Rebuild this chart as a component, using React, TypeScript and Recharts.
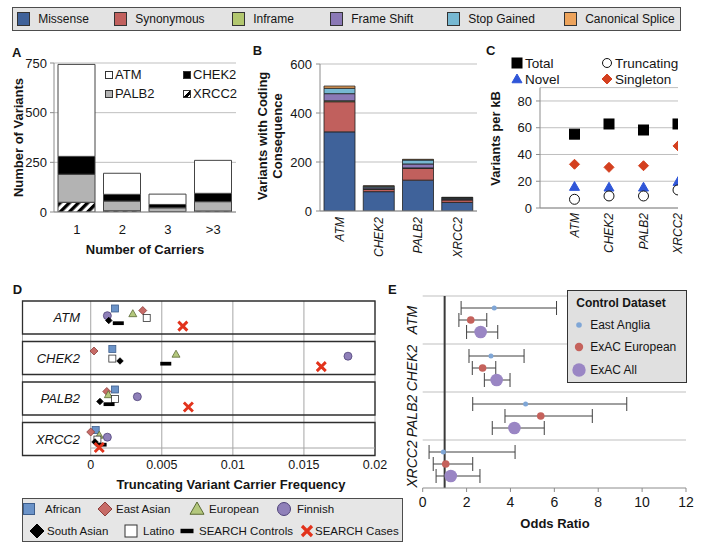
import React from 'react';
import {
  BarChart, Bar, XAxis, YAxis, CartesianGrid, Legend,
  ScatterChart, Scatter, ReferenceArea, ReferenceLine, ErrorBar,
} from 'recharts';

const FONT = '"Liberation Sans", Arial, Helvetica, sans-serif';
const GRID = '#bfbfbf';
const AXIS = '#8c8c8c';
const INK = '#151515';

// ---------- Panel A data ----------
const carriers = ['1', '2', '3', '>3'];
const carriersATM = [463, 106, 52, 166];
const carriersCHEK2 = [90, 34, 17, 42];
const carriersPALB2 = [141, 49, 19, 47];
const carriersXRCC2 = [49, 6, 2, 5];
const countTicks = [0, 250, 500, 750];

// ---------- Panel B data ----------
const genes = ['ATM', 'CHEK2', 'PALB2', 'XRCC2'];
const missense = [323, 79, 126, 35];
const synonymous = [123, 9, 48, 10];
const inframe = [4, 2, 2, 2];
const frameShift = [29, 5, 16, 4];
const stopGained = [22, 6, 16, 4];
const canonicalSplice = [9, 2, 3, 1];
const codingTicks = [0, 200, 400, 600];

// ---------- Panel C data ----------
const totalPerKb = [55.2, 62.8, 58.3, 62.8];
const truncatingPerKb = [6.5, 9.0, 9.0, 13.5];
const novelPerKb = [16.0, 15.5, 15.5, 19.7];
const singletonPerKb = [32.7, 30.4, 31.6, 46.4];
const perKbTicks = [0, 20, 40, 60, 80];

// ---------- Panel D data ----------
const freqAfrican = [0.00171, 0.00152, 0.00171, 0.00035];
const freqEastAsian = [0.00366, 0.00023, 0.00113, 0.0];
const freqEuropean = [0.00296, 0.006, 0.00124, 0.0006];
const freqFinnish = [0.00117, 0.0181, 0.00328, 0.00117];
const freqLatino = [0.00394, 0.00152, 0.00171, 0.00047];
const freqSouthAsian = [0.00127, 0.00206, 0.00065, 0.0003];
const freqSearchControls = [0.00194, 0.00528, 0.00129, 0.00073];
const freqSearchCases = [0.00648, 0.01622, 0.00687, 0.0006];
const freqTicks = [0, 0.005, 0.01, 0.015, 0.02];

// ---------- Panel E data ----------
const orEastAnglia = [3.26, 3.11, 4.69, 0.94];
const loEastAnglia = [1.75, 2.11, 2.28, 0.29];
const hiEastAnglia = [6.1, 4.62, 9.3, 4.21];
const orExacEuropean = [2.19, 2.73, 5.38, 1.05];
const loExacEuropean = [1.65, 2.26, 3.75, 0.48];
const hiExacEuropean = [2.92, 3.33, 7.73, 2.28];
const orExacAll = [2.64, 3.37, 4.18, 1.28];
const loExacAll = [2.0, 2.81, 3.17, 0.61];
const hiExacAll = [3.42, 3.98, 5.54, 2.61];
const orTicks = [0, 2, 4, 6, 8, 10, 12];

// ---------- helpers ----------
const tickStyle = (size: number) => ({ fontSize: size, fill: INK, fontFamily: FONT });
const titleStyle = (size: number) => ({ fontFamily: FONT, fontSize: size, fontWeight: 700, fill: INK });

function hTitle(text: string, x: number, y: number, size = 13) {
  return () => (
    <text x={x} y={y} textAnchor="middle" dy="0.35em" style={titleStyle(size)}>{text}</text>
  );
}
function vTitle(lines: string[], x: number, y: number, size = 13, lh = 15) {
  return () => (
    <text transform={`translate(${x},${y}) rotate(-90)`} textAnchor="middle" style={titleStyle(size)}>
      {lines.map((l, i) => (
        <tspan key={i} x={0} y={(i - (lines.length - 1) / 2) * lh} dy="0.35em">{l}</tspan>
      ))}
    </text>
  );
}

function marker(kind: string, cx: number, cy: number, s: number, fill: string, stroke: string, sw = 0.8) {
  const h = s / 2;
  switch (kind) {
    case 'square':
      return <rect x={cx - h} y={cy - h} width={s} height={s} fill={fill} stroke={stroke} strokeWidth={sw} />;
    case 'diamond':
      return <polygon points={`${cx},${cy - h} ${cx + h},${cy} ${cx},${cy + h} ${cx - h},${cy}`} fill={fill} stroke={stroke} strokeWidth={sw} />;
    case 'triangle':
      return <polygon points={`${cx},${cy - h} ${cx + h},${cy + h * 0.75} ${cx - h},${cy + h * 0.75}`} fill={fill} stroke={stroke} strokeWidth={sw} />;
    case 'circle':
      return <circle cx={cx} cy={cy} r={h} fill={fill} stroke={stroke} strokeWidth={sw} />;
    case 'bar':
      return <rect x={cx - h} y={cy - s * 0.17} width={s} height={s * 0.34} fill={fill} />;
    case 'x':
      return (
        <path d={`M${cx - h},${cy - h}L${cx + h},${cy + h}M${cx + h},${cy - h}L${cx - h},${cy + h}`} stroke={stroke} strokeWidth={s * 0.32} fill="none" />
      );
    default:
      return <circle cx={cx} cy={cy} r={h} fill={fill} />;
  }
}

function IconSvg({ kind, s, fill, stroke, box = 16 }: any) {
  return (
    <svg width={box} height={box} style={{ display: 'block', overflow: 'visible' }}>
      {marker(kind, box / 2, box / 2, s, fill, stroke, 1)}
    </svg>
  );
}

// ---------- Panel A ----------
const dataA = carriers.map((c, i) => ({
  cat: c, XRCC2: carriersXRCC2[i], PALB2: carriersPALB2[i], CHEK2: carriersCHEK2[i], ATM: carriersATM[i],
}));
const A_SERIES = [
  { key: 'XRCC2', fill: 'url(#hatchA)' },
  { key: 'PALB2', fill: '#b3b3b3' },
  { key: 'CHEK2', fill: '#000000' },
  { key: 'ATM', fill: '#ffffff' },
];
const A_LEGEND_ORDER = ['ATM', 'CHEK2', 'PALB2', 'XRCC2'];
const A_SWATCH: Record<string, string> = {
  ATM: '#ffffff', CHEK2: '#000000', PALB2: '#b3b3b3',
  XRCC2: 'linear-gradient(135deg, #ffffff 45%, #000000 45%, #000000 75%, #ffffff 75%)',
};

function LegendA({ payload }: any) {
  const items = [...(payload || [])].sort(
    (a: any, b: any) => A_LEGEND_ORDER.indexOf(a.value) - A_LEGEND_ORDER.indexOf(b.value));
  return (
    <div style={{ position: 'relative', width: 133, height: 40, fontFamily: FONT, fontSize: 13, color: INK }}>
      {items.map((it: any, i: number) => (
        <div key={it.value} style={{ position: 'absolute', left: (i % 2) * 78, top: Math.floor(i / 2) * 19, height: 19, display: 'flex', alignItems: 'center', whiteSpace: 'nowrap' }}>
          <span style={{ display: 'inline-block', width: 8, height: 8, boxSizing: 'border-box', border: '1px solid #333', background: A_SWATCH[it.value] }} />
          <span style={{ marginLeft: 2 }}>{it.value}</span>
        </div>
      ))}
    </div>
  );
}

function ChartA() {
  return (
    <BarChart width={245} height={220} data={dataA} margin={{ top: 23, right: 9, left: 0, bottom: 0 }} barSize={37}>
      <defs>
        <pattern id="hatchA" width="6.5" height="6.5" patternUnits="userSpaceOnUse" patternTransform="rotate(45)">
          <rect width="6.5" height="6.5" fill="#ffffff" />
          <rect width="3.3" height="6.5" fill="#000000" />
        </pattern>
      </defs>
      <CartesianGrid vertical={false} stroke={GRID} />
      <XAxis xAxisId="tk" type="number" domain={[0, 4]} ticks={[0, 1, 2, 3, 4]} height={0} tick={false}
        axisLine={false} tickLine={{ stroke: AXIS }} tickSize={5} allowDataOverflow />
      <XAxis dataKey="cat" height={48} axisLine={{ stroke: AXIS }} tickLine={false} tickSize={0} tickMargin={13}
        tick={tickStyle(13)} interval={0} label={hTitle('Number of Carriers', 145, 209.5)} />
      <YAxis domain={[0, 750]} ticks={countTicks} width={54} axisLine={{ stroke: AXIS }} tickLine={{ stroke: AXIS }}
        tickSize={4} tickMargin={3} tick={tickStyle(13)} allowDataOverflow
        label={vTitle(['Number of Variants'], 18, 97.5)} />
      {A_SERIES.map((s) => (
        <Bar key={s.key} dataKey={s.key} name={s.key} stackId="a" fill={s.fill} stroke="#444" strokeWidth={1} isAnimationActive={false} />
      ))}
      <Legend content={LegendA} layout="horizontal" align="center" verticalAlign="middle"
        wrapperStyle={{ left: 105, top: 25, width: 133, height: 40 }} />
    </BarChart>
  );
}

// ---------- Panel B ----------
const B_SERIES = [
  { key: 'missense', name: 'Missense', values: missense, fill: '#3f629a' },
  { key: 'synonymous', name: 'Synonymous', values: synonymous, fill: '#c1605d' },
  { key: 'inframe', name: 'Inframe', values: inframe, fill: '#b2c76f' },
  { key: 'frameShift', name: 'Frame Shift', values: frameShift, fill: '#8b79b6' },
  { key: 'stopGained', name: 'Stop Gained', values: stopGained, fill: '#76b8d2' },
  { key: 'canonicalSplice', name: 'Canonical Splice', values: canonicalSplice, fill: '#eda35b' },
];
const dataB = genes.map((g, i) => {
  const row: any = { gene: g };
  B_SERIES.forEach((s) => { row[s.key] = s.values[i]; });
  return row;
});
const TOP_LEGEND_X = [4, 101, 219, 317, 434, 551];

function TopLegend({ payload }: any) {
  const names = B_SERIES.map((s) => s.name);
  const items = [...(payload || [])].sort((a: any, b: any) => names.indexOf(a.value) - names.indexOf(b.value));
  return (
    <div style={{ position: 'relative', width: 669, height: 24, boxSizing: 'border-box', border: '1px solid #4d4d4d', background: '#e3e3e3', fontFamily: FONT, fontSize: 12, color: INK }}>
      {items.map((it: any, i: number) => (
        <div key={it.value} style={{ position: 'absolute', left: TOP_LEGEND_X[i], top: 0, height: 22, display: 'flex', alignItems: 'center', whiteSpace: 'nowrap' }}>
          <span style={{ display: 'inline-block', width: 13, height: 14, boxSizing: 'border-box', border: '1px solid #333', background: it.color }} />
          <span style={{ marginLeft: 8.5 }}>{it.value}</span>
        </div>
      ))}
    </div>
  );
}

function GeneTickB(props: any) {
  const { x, y, payload } = props;
  return (
    <text transform={`translate(${x},${y}) rotate(-90)`} textAnchor="end" dy="0.35em"
      style={{ fontFamily: FONT, fontSize: 12, fontStyle: 'italic', fill: INK }}>{payload.value}</text>
  );
}

function ChartB() {
  return (
    <BarChart width={250} height={272} data={dataB} margin={{ top: 64, right: 3, left: 0, bottom: 0 }} barSize={31}>
      <CartesianGrid vertical={false} stroke={GRID} />
      <XAxis xAxisId="tk" type="number" domain={[0, 4]} ticks={[0, 1, 2, 3, 4]} height={0} tick={false}
        axisLine={false} tickLine={{ stroke: AXIS }} tickSize={5} allowDataOverflow />
      <XAxis dataKey="gene" height={61} axisLine={{ stroke: AXIS }} tickLine={false} tickSize={0} tickMargin={6}
        tick={<GeneTickB />} interval={0} />
      <YAxis domain={[0, 600]} ticks={codingTicks} width={90} axisLine={{ stroke: AXIS }} tickLine={{ stroke: AXIS }}
        tickSize={4} tickMargin={4} tick={tickStyle(13)} allowDataOverflow
        label={vTitle(['Variants with Coding', 'Consequence'], 40, 136)} />
      {B_SERIES.map((s) => (
        <Bar key={s.key} dataKey={s.key} name={s.name} stackId="b" fill={s.fill} stroke="#1f1f1f" strokeWidth={0.8} isAnimationActive={false} />
      ))}
      <Legend content={TopLegend} layout="horizontal" align="center" verticalAlign="middle"
        wrapperStyle={{ left: -218.3, top: 6.7, width: 669, height: 24 }} />
    </BarChart>
  );
}

// ---------- Panel C ----------
const C_SERIES = [
  { name: 'Total', values: totalPerKb, kind: 'square', s: 10, fill: '#000000', stroke: '#000000' },
  { name: 'Singleton', values: singletonPerKb, kind: 'diamond', s: 10, fill: '#d4401f', stroke: '#d4401f' },
  { name: 'Novel', values: novelPerKb, kind: 'triangle', s: 10, fill: '#2f56d8', stroke: '#2f56d8' },
  { name: 'Truncating', values: truncatingPerKb, kind: 'circle', s: 10, fill: '#ffffff', stroke: '#111111' },
];
const C_LEGEND_POS: Record<string, [number, number]> = {
  Total: [57, 23], Truncating: [147, 23], Novel: [57, 39], Singleton: [147, 39],
};

function LegendC({ payload }: any) {
  return (
    <div style={{ position: 'relative', width: 230, height: 50, fontFamily: FONT, fontSize: 13.5, color: INK }}>
      {(payload || []).map((it: any) => {
        const st = C_SERIES.find((s) => s.name === it.value);
        const pos = C_LEGEND_POS[it.value];
        if (!st || !pos) return null;
        return (
          <div key={it.value} style={{ position: 'absolute', left: pos[0] - 8, top: pos[1] - 9, height: 18, display: 'flex', alignItems: 'center', whiteSpace: 'nowrap' }}>
            <IconSvg kind={st.kind} s={st.kind === 'circle' ? 9 : 10} fill={st.fill} stroke={st.stroke} />
            <span style={{ marginLeft: 0 }}>{it.value}</span>
          </div>
        );
      })}
    </div>
  );
}

function GeneTickC(props: any) {
  const { x, y, payload } = props;
  return (
    <text transform={`translate(${x},${y}) rotate(-90)`} textAnchor="end" dy="0.35em"
      style={{ fontFamily: FONT, fontSize: 12, fontStyle: 'italic', fill: INK }}>{genes[payload.value - 1]}</text>
  );
}

function ChartC() {
  return (
    <ScatterChart width={248} height={230} margin={{ top: 47.6, right: 30, left: 0, bottom: 0 }}>
      <CartesianGrid vertical={false} stroke={GRID} />
      <XAxis type="number" dataKey="x" domain={[0, 4]} ticks={[1, 2, 3, 4]} height={62} axisLine={{ stroke: AXIS }}
        tickLine={false} tickSize={0} tickMargin={5} tick={<GeneTickC />} interval={0} allowDataOverflow />
      <YAxis type="number" dataKey="y" domain={[0, 90]} ticks={perKbTicks} width={80} axisLine={{ stroke: AXIS }}
        tickLine={{ stroke: AXIS }} tickSize={4} tickMargin={4} tick={tickStyle(13)} allowDataOverflow
        label={vTitle(['Variants per kB'], 35, 98.5)} />
      {C_SERIES.map((s) => (
        <Scatter key={s.name} name={s.name} fill={s.fill} isAnimationActive={false}
          data={s.values.map((v, i) => ({ x: i + 1, y: v, gene: genes[i] }))}
          shape={(p: any) => marker(s.kind, p.cx, p.cy, s.s, s.fill, s.stroke, 1)} />
      ))}
      <Legend content={LegendC} layout="horizontal" align="center" verticalAlign="middle"
        wrapperStyle={{ left: 0, top: 0, width: 230, height: 50 }} />
    </ScatterChart>
  );
}

// ---------- Panel D ----------
const D_SERIES = [
  { name: 'African', values: freqAfrican, kind: 'square', s: 7, fill: '#6b93c8', stroke: '#3e5e8c', ls: 11 },
  { name: 'East Asian', values: freqEastAsian, kind: 'diamond', s: 8, fill: '#c76b67', stroke: '#8c3f3c', ls: 14 },
  { name: 'European', values: freqEuropean, kind: 'triangle', s: 8, fill: '#b4c87d', stroke: '#5b6a35', ls: 14 },
  { name: 'Finnish', values: freqFinnish, kind: 'circle', s: 8, fill: '#8f80b9', stroke: '#4f4379', ls: 13 },
  { name: 'Latino', values: freqLatino, kind: 'square', s: 7, fill: '#ffffff', stroke: '#333333', ls: 12 },
  { name: 'South Asian', values: freqSouthAsian, kind: 'diamond', s: 6.5, fill: '#000000', stroke: '#000000', ls: 14 },
  { name: 'SEARCH Controls', values: freqSearchControls, kind: 'bar', s: 11, fill: '#000000', stroke: '#000000', ls: 13 },
  { name: 'SEARCH Cases', values: freqSearchCases, kind: 'x', s: 9, fill: '#e2331c', stroke: '#e2331c', ls: 10 },
];
const D_LANES = [0.185, 0.235, 0.313, 0.363, 0.422, 0.481, 0.548, 0.62];
const D_BOX = 0.815;
const D_LEGEND_POS: Record<string, [number, number, number]> = {
  African: [6, 22, 0], 'East Asian': [82, 93, 0], European: [174, 186, 0], Finnish: [261, 274, 0],
  'South Asian': [14, 24, 1], Latino: [108, 120, 1], 'SEARCH Controls': [164, 176, 1], 'SEARCH Cases': [284, 292, 1],
};

function LegendD({ payload }: any) {
  return (
    <div style={{ position: 'relative', width: 381, height: 44, boxSizing: 'border-box', border: '1px solid #4d4d4d', background: '#e6e6e6', fontFamily: FONT, fontSize: 11.5, color: INK }}>
      {(payload || []).map((it: any) => {
        const st = D_SERIES.find((s) => s.name === it.value);
        const pos = D_LEGEND_POS[it.value];
        if (!st || !pos) return null;
        const cy = pos[2] === 0 ? 10 : 32;
        return (
          <React.Fragment key={it.value}>
            <div style={{ position: 'absolute', left: pos[0] - 8, top: cy - 8 }}>
              <IconSvg kind={st.kind} s={st.ls} fill={st.fill} stroke={st.stroke} />
            </div>
            <div style={{ position: 'absolute', left: pos[1], top: cy - 8, height: 16, lineHeight: '16px', whiteSpace: 'nowrap' }}>{it.value}</div>
          </React.Fragment>
        );
      })}
    </div>
  );
}

const rowLabelD = (g: string) => (props: any) => {
  const vb = props.viewBox || {};
  return (
    <text x={(vb.x ?? 22.5) + 57.5} y={(vb.y ?? 0) + (vb.height ?? 33) / 2} textAnchor="end" dy="0.35em"
      style={{ fontFamily: FONT, fontSize: 13, fontStyle: 'italic', fill: INK }}>{g}</text>
  );
};

function ChartD() {
  return (
    <ScatterChart width={410} height={265} margin={{ top: 21, right: 35, left: 22.5, bottom: 50 }}>
      <CartesianGrid horizontal={false} stroke="#a6a6a6" />
      <XAxis type="number" dataKey="x" domain={[-0.0048, 0.02]} ticks={freqTicks} height={39.5} axisLine={false}
        tickLine={false} tickSize={0} tickMargin={5} tick={tickStyle(12.5)} tickFormatter={(v: number) => String(v)}
        interval={0} allowDataOverflow label={hTitle('Truncating Variant Carrier Frequency', 231, 204)} />
      <YAxis type="number" dataKey="y" domain={[0, 3.815]} reversed hide allowDataOverflow />
      {genes.map((g, i) => (
        <ReferenceArea key={g} x1={-0.0048} x2={0.02} y1={i} y2={i + D_BOX} fill="none" fillOpacity={0}
          stroke="#2e2e2e" strokeWidth={1.3} ifOverflow="visible" label={rowLabelD(g)} />
      ))}
      <ReferenceLine segment={[{ x: 0, y: 3.63 }, { x: 0.02, y: 3.63 }]} stroke="#a6a6a6" />
      {D_SERIES.map((s, pi) => (
        <Scatter key={s.name} name={s.name} fill={s.fill} isAnimationActive={false}
          data={s.values.map((v, gi) => ({ x: v, y: gi + D_LANES[pi], gene: genes[gi] }))}
          shape={(p: any) => marker(s.kind, p.cx, p.cy, s.s, s.fill, s.stroke, 0.8)} />
      ))}
      <Legend content={LegendD} layout="horizontal" align="center" verticalAlign="middle"
        wrapperStyle={{ left: 22, top: 218, width: 381, height: 44 }} />
    </ScatterChart>
  );
}

// ---------- Panel E ----------
const E_SERIES = [
  { name: 'East Anglia', or: orEastAnglia, lo: loEastAnglia, hi: hiEastAnglia, lane: 0.25, r: 2.5, lr: 2.8, fill: '#7fa6d6' },
  { name: 'ExAC European', or: orExacEuropean, lo: loExacEuropean, hi: hiExacEuropean, lane: 0.5, r: 3.8, lr: 4.2, fill: '#c5625c' },
  { name: 'ExAC All', or: orExacAll, lo: loExacAll, hi: hiExacAll, lane: 0.75, r: 6.3, lr: 6.7, fill: '#9a86c4' },
];
const E_LEGEND_Y = [33.5, 56.2, 78.5];

function LegendE({ payload }: any) {
  return (
    <div style={{ position: 'relative', width: 119.4, height: 93.3, boxSizing: 'border-box', border: '1.5px solid #333', background: '#e0e0e0', fontFamily: FONT, fontSize: 12, color: INK }}>
      <div style={{ position: 'absolute', left: 8, top: 4.5, height: 14, lineHeight: '14px', fontWeight: 700, whiteSpace: 'nowrap' }}>Control Dataset</div>
      {(payload || []).map((it: any) => {
        const st = E_SERIES.find((s) => s.name === it.value);
        if (!st) return null;
        const cy = E_LEGEND_Y[E_SERIES.indexOf(st)];
        return (
          <React.Fragment key={it.value}>
            <svg width={16} height={16} style={{ position: 'absolute', left: 11.2 - 8, top: cy - 8 }}>
              <circle cx={8} cy={8} r={st.lr} fill={st.fill} />
            </svg>
            <div style={{ position: 'absolute', left: 21.9, top: cy - 8, height: 16, lineHeight: '16px', whiteSpace: 'nowrap' }}>{it.value}</div>
          </React.Fragment>
        );
      })}
    </div>
  );
}

function GeneTickE(props: any) {
  const { x, y, payload } = props;
  return (
    <text transform={`translate(${x},${y}) rotate(-90)`} textAnchor="middle" dy="0.35em"
      style={{ fontFamily: FONT, fontSize: 14, fontStyle: 'italic', fill: INK }}>{genes[Math.floor(payload.value)]}</text>
  );
}

function ChartE() {
  return (
    <ScatterChart width={308} height={273} margin={{ top: 16, right: 22, left: 0, bottom: 0 }}>
      {genes.map((g, i) => (
        <ReferenceLine key={g} y={i} stroke={GRID} />
      ))}
      <XAxis type="number" dataKey="x" domain={[0, 12]} ticks={orTicks} height={65} axisLine={{ stroke: AXIS }}
        tickLine={{ stroke: AXIS }} tickSize={4} tickMargin={4.7} tick={tickStyle(14)} interval={0} allowDataOverflow
        label={hTitle('Odds Ratio', 155, 243)} />
      <YAxis type="number" dataKey="y" domain={[0, 4]} reversed ticks={[0.5, 1.5, 2.5, 3.5]} width={22.7}
        axisLine={false} tickLine={false} tickSize={0} tickMargin={11} tick={<GeneTickE />} interval={0} allowDataOverflow />
      <ReferenceLine x={1} stroke="#3a3a3a" strokeWidth={2} />
      {E_SERIES.map((s) => (
        <Scatter key={s.name} name={s.name} fill={s.fill} isAnimationActive={false}
          data={s.or.map((v, i) => ({ x: v, y: i + s.lane, err: [v - s.lo[i], s.hi[i] - v], gene: genes[i] }))}
          shape={(p: any) => <circle cx={p.cx} cy={p.cy} r={s.r} fill={s.fill} />}>
          <ErrorBar dataKey="err" direction="x" width={7} stroke="#404040" strokeWidth={1} />
        </Scatter>
      ))}
      <Legend content={LegendE} layout="horizontal" align="center" verticalAlign="middle"
        wrapperStyle={{ left: 167.3, top: 10, width: 119.4, height: 93.3 }} />
    </ScatterChart>
  );
}

// ---------- App ----------
const LETTERS: [string, number, number][] = [
  ['A', 12, 48], ['B', 252.7, 46], ['C', 486, 45.7], ['D', 12.7, 285], ['E', 388, 285],
];

export default function App() {
  return (
    <div style={{ position: 'absolute', left: 0, top: 0, width: 708, height: 553, background: '#ffffff', fontFamily: FONT, overflow: 'hidden' }}>
      <div style={{ position: 'absolute', left: 0, top: 40 }}><ChartA /></div>
      <div style={{ position: 'absolute', left: 460, top: 40 }}><ChartC /></div>
      <div style={{ position: 'absolute', left: 230, top: 0 }}><ChartB /></div>
      <div style={{ position: 'absolute', left: 400, top: 280 }}><ChartE /></div>
      <div style={{ position: 'absolute', left: 0, top: 280 }}><ChartD /></div>
      {LETTERS.map(([t, x, y]) => (
        <div key={t} style={{ position: 'absolute', left: x, top: y - 1.7, fontSize: 13, lineHeight: '13px', fontWeight: 700, color: INK, fontFamily: FONT }}>{t}</div>
      ))}
    </div>
  );
}
